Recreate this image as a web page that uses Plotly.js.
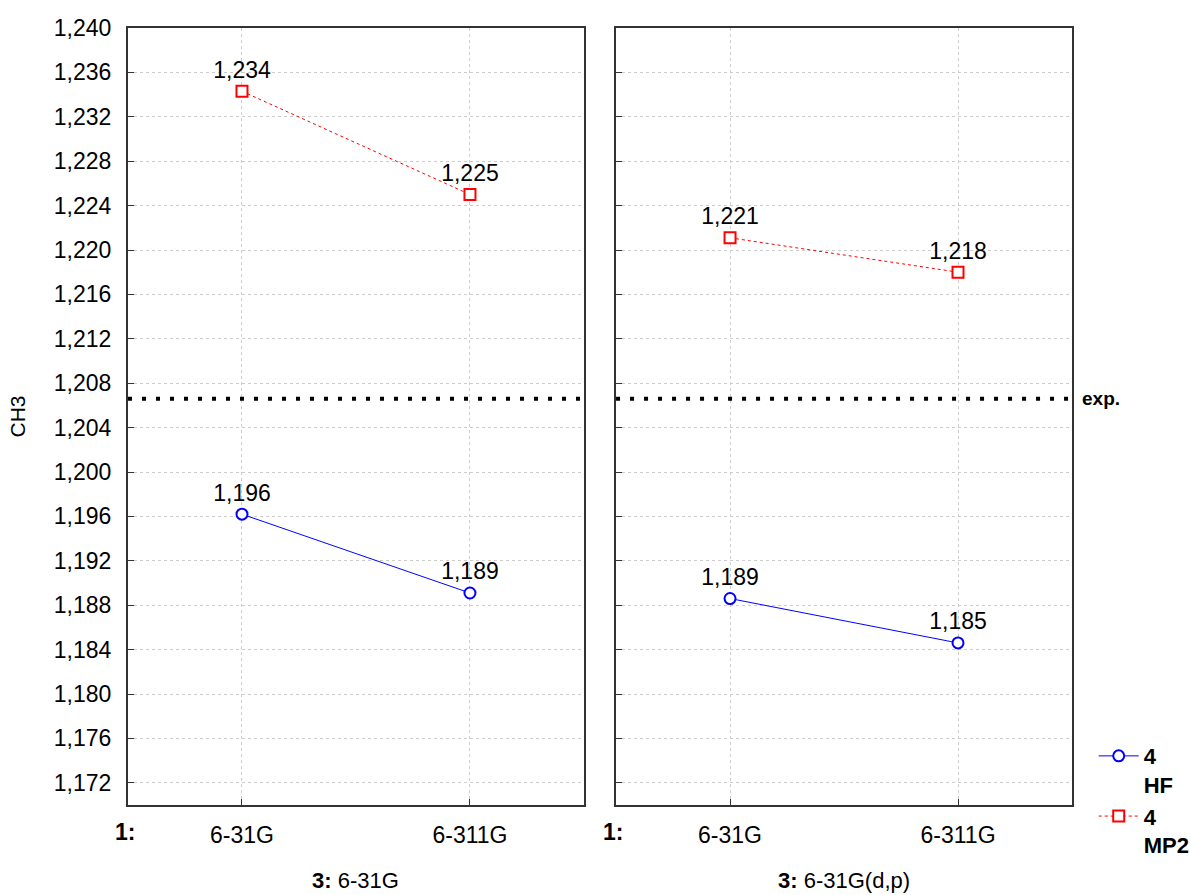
<!DOCTYPE html>
<html>
<head>
<meta charset="utf-8">
<script src="https://cdn.plot.ly/plotly-3.0.1.min.js"></script>
<style>
  html, body { margin: 0; padding: 0; background: #fff; }
  #chart { width: 1190px; height: 895px; }
</style>
</head>
<body>
<div id="chart"></div>
<script>
// Factor 1: basis set used for the geometry step
const categories = ['6-31G', '6-311G'];

// CH3 bond length, panel "3: 6-31G"
const hfPanelA  = [1.1962, 1.1891];
const mp2PanelA = [1.2343, 1.2250];

// CH3 bond length, panel "3: 6-31G(d,p)"
const hfPanelB  = [1.1886, 1.1846];
const mp2PanelB = [1.2211, 1.2180];

// Experimental reference value
const expValue = 1.2066;

const panelTitles = ['<b>3:</b> 6-31G', '<b>3:</b> 6-31G(d,p)'];
const legendNames = ['<b>4</b><br><b>HF</b>', '<b>4</b><br><b>MP2</b>'];

const FONT = 'Liberation Sans, Arial, sans-serif';

const hfStyle = {
  mode: 'lines+markers+text',
  line: { color: '#0000ff', width: 1 },
  marker: { symbol: 'circle', size: 11, color: '#ffffff', line: { color: '#0000ff', width: 2 } },
  textposition: 'top center',
  texttemplate: '%{y:.3f}',
  textfont: { family: FONT, size: 23, color: '#000' },
  cliponaxis: false
};
const mp2Style = {
  mode: 'lines+markers+text',
  line: { color: '#ff0000', width: 1, dash: '3px,3px' },
  marker: { symbol: 'square', size: 11, color: '#ffffff', line: { color: '#ff0000', width: 2 } },
  textposition: 'top center',
  texttemplate: '%{y:.3f}',
  textfont: { family: FONT, size: 23, color: '#000' },
  cliponaxis: false
};

const traces = [
  Object.assign({ x: categories, y: hfPanelA,  xaxis: 'x',  yaxis: 'y',  name: legendNames[0], legendgroup: 'hf',  showlegend: true }, hfStyle),
  Object.assign({ x: categories, y: mp2PanelA, xaxis: 'x',  yaxis: 'y',  name: legendNames[1], legendgroup: 'mp2', showlegend: true }, mp2Style),
  Object.assign({ x: categories, y: hfPanelB,  xaxis: 'x2', yaxis: 'y2', name: legendNames[0], legendgroup: 'hf',  showlegend: false }, hfStyle),
  Object.assign({ x: categories, y: mp2PanelB, xaxis: 'x2', yaxis: 'y2', name: legendNames[1], legendgroup: 'mp2', showlegend: false }, mp2Style)
];

function xAxis(domain, anchor) {
  return {
    domain: domain,
    anchor: anchor,
    type: 'category',
    range: [-0.5, 1.5],
    showline: true, mirror: true, linecolor: '#333', linewidth: 2,
    showgrid: true, gridcolor: '#cccccc', griddash: 'dot', gridwidth: 1,
    ticks: 'inside', ticklen: 6, tickcolor: '#333', tickwidth: 1,
    ticklabelstandoff: 8,
    tickfont: { family: FONT, size: 23, color: '#000' },
    zeroline: false, fixedrange: true, automargin: false
  };
}
function yAxis(anchor, showLabels) {
  return {
    anchor: anchor,
    range: [1.170, 1.240],
    tick0: 1.172, dtick: 0.004,
    tickformat: '.3f',
    showticklabels: showLabels,
    showline: true, mirror: true, linecolor: '#333', linewidth: 2,
    showgrid: true, gridcolor: '#cccccc', griddash: 'dot', gridwidth: 1,
    ticks: 'inside', ticklen: 6, tickcolor: '#333', tickwidth: 1,
    ticklabelstandoff: 10,
    tickfont: { family: FONT, size: 23, color: '#000' },
    zeroline: false, fixedrange: true, automargin: false
  };
}

const domA = [0, 0.483];
const domB = [0.517, 1];

const yA = yAxis('x', true);
yA.title = { text: 'CH3', font: { family: FONT, size: 21, color: '#000' }, standoff: 22 };
const yB = yAxis('x2', false);
yB.matches = 'y';

const expLine = (xref, yref) => ({
  type: 'line', xref: xref + ' domain', yref: yref,
  x0: 0, x1: 1, y0: expValue, y1: expValue,
  line: { color: '#000', width: 4, dash: '4px,10px' }
});

const layout = {
  width: 1190, height: 895,
  margin: { l: 128, r: 118, t: 28, b: 90, autoexpand: false },
  paper_bgcolor: '#fff', plot_bgcolor: '#fff',
  separators: ',.',
  font: { family: FONT, color: '#000' },
  xaxis: xAxis(domA, 'y'),
  yaxis: yA,
  xaxis2: xAxis(domB, 'y2'),
  yaxis2: yB,
  shapes: [expLine('x', 'y'), expLine('x2', 'y2')],
  showlegend: true,
  legend: {
    x: 1.023, xanchor: 'left', y: 0.09, yanchor: 'top',
    valign: 'top',
    font: { family: FONT, size: 22, color: '#000' },
    bgcolor: 'rgba(0,0,0,0)', borderwidth: 0,
    tracegroupgap: 0, itemwidth: 40
  },
  annotations: [
    { text: '<b>exp.</b>', xref: 'paper', yref: 'y', x: 1.009, y: expValue, xanchor: 'left', yanchor: 'middle',
      showarrow: false, font: { family: FONT, size: 19, color: '#000' } },
    { text: '<b>1:</b>', xref: 'paper', yref: 'paper', x: 0.0095, y: -0.035, xanchor: 'right', yanchor: 'middle',
      showarrow: false, font: { family: FONT, size: 23, color: '#000' } },
    { text: '<b>1:</b>', xref: 'paper', yref: 'paper', x: 0.5265, y: -0.035, xanchor: 'right', yanchor: 'middle',
      showarrow: false, font: { family: FONT, size: 23, color: '#000' } },
    { text: panelTitles[0], xref: 'paper', yref: 'paper', x: (domA[0] + domA[1]) / 2, y: -0.097, xanchor: 'center', yanchor: 'middle',
      showarrow: false, font: { family: FONT, size: 22, color: '#000' } },
    { text: panelTitles[1], xref: 'paper', yref: 'paper', x: (domB[0] + domB[1]) / 2, y: -0.097, xanchor: 'center', yanchor: 'middle',
      showarrow: false, font: { family: FONT, size: 22, color: '#000' } }
  ]
};

Plotly.newPlot('chart', traces, layout, { displayModeBar: false, staticPlot: true });
</script>
</body>
</html>
